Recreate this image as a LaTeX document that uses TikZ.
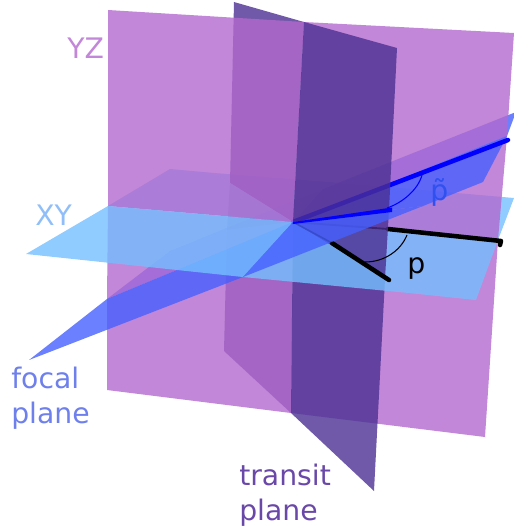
\documentclass[tikz,border=0pt]{standalone}
\usepackage{fontspec}
\setmainfont{DejaVu Sans}
\definecolor{cyz}{HTML}{B369CE}
\definecolor{ctr}{HTML}{4C3092}
\definecolor{cxy}{HTML}{74BFFF}
\definecolor{cfo}{HTML}{4560FF}
\definecolor{tyz}{HTML}{C287D8}
\definecolor{txy}{HTML}{90BEF8}
\definecolor{tfo}{HTML}{6E80EC}
\definecolor{ttr}{HTML}{6A48A8}
\definecolor{tpq}{HTML}{3050F0}
\begin{document}
\begin{tikzpicture}[x=0.75pt,y=-0.75pt,
  yzp/.style={fill=cyz,fill opacity=.8},
  trp/.style={fill=ctr,fill opacity=.8},
  xyp/.style={fill=cxy,fill opacity=.8},
  fop/.style={fill=cfo,fill opacity=.8},
  lab/.style={anchor=base west,inner sep=0pt,font=\fontsize{21.2}{25}\selectfont},
  heavy/.style={line width=3.4pt,line cap=round,line join=round},
  thinarc/.style={line width=.8pt}]
\useasboundingbox (0,0) rectangle (514,529);
\coordinate (O) at (293,222);
% YZ plane
\coordinate (Y1) at (108,10);
\coordinate (Y2) at (514,33);
\coordinate (Y3) at (485,437);
\coordinate (Y4) at (107,390);
% transit plane
\coordinate (T1) at (234,2);
\coordinate (T2) at (397,48);
\coordinate (T3) at (374,491);
\coordinate (T4) at (224,351);
% XY plane
\coordinate (X1) at (26,254);
\coordinate (X2) at (170,169);
\coordinate (X3) at (514,198);
\coordinate (X4) at (476,300);
% focal plane
\coordinate (F1) at (29,360);
\coordinate (F2) at (170,251);
\coordinate (F3) at (516,112);
\coordinate (F4) at (483,182);
% intersections
\coordinate (tup) at (304,22);
\coordinate (tdn) at (291,413);
\coordinate (a) at (108,206);
\coordinate (b) at (498,240);
\coordinate (fl) at (107,299);
\coordinate (fr) at (507,136);
\coordinate (ftr) at (389,210);
\coordinate (ftl) at (227,230);
\coordinate (xtf) at (385,279);
\coordinate (xtb) at (230,183);
\coordinate (xfb) at (329,182);
\coordinate (xff) at (243,277);
\coordinate (xtF) at (409,293);
\coordinate (xtB) at (214,173);
\coordinate (ffb) at (323,189);
\coordinate (ftR) at (423,206);
\coordinate (ftL) at (219,231);
% three planes between piece and viewer
\fill[yzp] (O)--(b)--(Y3)--(tdn)--cycle;
\fill[trp] (O)--(tdn)--(T4)--(ftl)--cycle;
\fill[xyp] (O)--(xfb)--(X3)--(b)--cycle;
\fill[fop] (O)--(ftL)--(ffb)--cycle;
% two
\fill[yzp] (O)--(fr)--(b)--cycle;
\fill[yzp] (O)--(tdn)--(Y4)--(fl)--cycle;
\fill[trp] (O)--(xtf)--(T3)--(tdn)--cycle;
\fill[trp] (O)--(ftl)--(xtb)--cycle;
\fill[xyp] (O)--(b)--(X4)--(xtF)--cycle;
\fill[xyp] (O)--(xtB)--(xfb)--cycle;
\fill[fop] (O)--(ffb)--(F3)--(fr)--cycle;
\fill[fop] (O)--(fl)--(F2)--(ftL)--cycle;
% black line along XY/YZ
\draw[line width=1.4pt,black] (O)--(388,229);
\draw[heavy,black] (388,229)--(501,241)--(500,245);
% one
\fill[yzp] (O)--(tup)--(Y2)--(fr)--cycle;
\fill[yzp] (O)--(fl)--(a)--cycle;
\fill[trp] (O)--(ftr)--(xtf)--cycle;
\fill[trp] (O)--(xtb)--(T1)--(tup)--cycle;
\fill[xyp] (O)--(xtF)--(xff)--cycle;
\fill[xyp] (O)--(a)--(X2)--(xtB)--cycle;
\fill[fop] (O)--(fr)--(F4)--(ftR)--cycle;
\fill[fop] (O)--(xff)--(F1)--(fl)--cycle;
% lines on the next layer
\draw[line width=1.2pt,black] (O)--(332,243);
\draw[heavy,black] (332,243)--(389,280);
\draw[heavy,blue] (O)--(508,140);
% none
\fill[yzp] (O)--(a)--(Y1)--(tup)--cycle;
\fill[trp] (O)--(tup)--(T2)--(ftr)--cycle;
\fill[xyp] (O)--(xff)--(X1)--(a)--cycle;
\fill[fop] (O)--(ftR)--(xff)--cycle;
% top lines and arcs
\fill[blue] (O)--(392,207.5)--(392,212)--(293,224)--cycle;
\draw[thinarc,black] (407,235) .. controls (401,250) and (385,262) .. (365,262);
\draw[thinarc,blue] (422,175) .. controls (418,190) and (402,203) .. (387,208);
% labels
\node[lab,text=tyz] (lyz) at (67,58) {YZ};
\node[lab,text=txy] (lxy) at (35,225) {XY};
\node[lab,text=tfo] (lf1) at (11,388) {focal};
\node[lab,text=tfo] (lf2) at (11,423) {plane};
\node[lab,text=ttr] (lt1) at (239,485) {transit};
\node[lab,text=ttr] (lt2) at (239,520) {plane};
\node[lab,text=black] (lp) at (407,273) {p};
\node[lab,text=tpq] (lq) at (430,200) {\~{p}};
\end{tikzpicture}
\end{document}
